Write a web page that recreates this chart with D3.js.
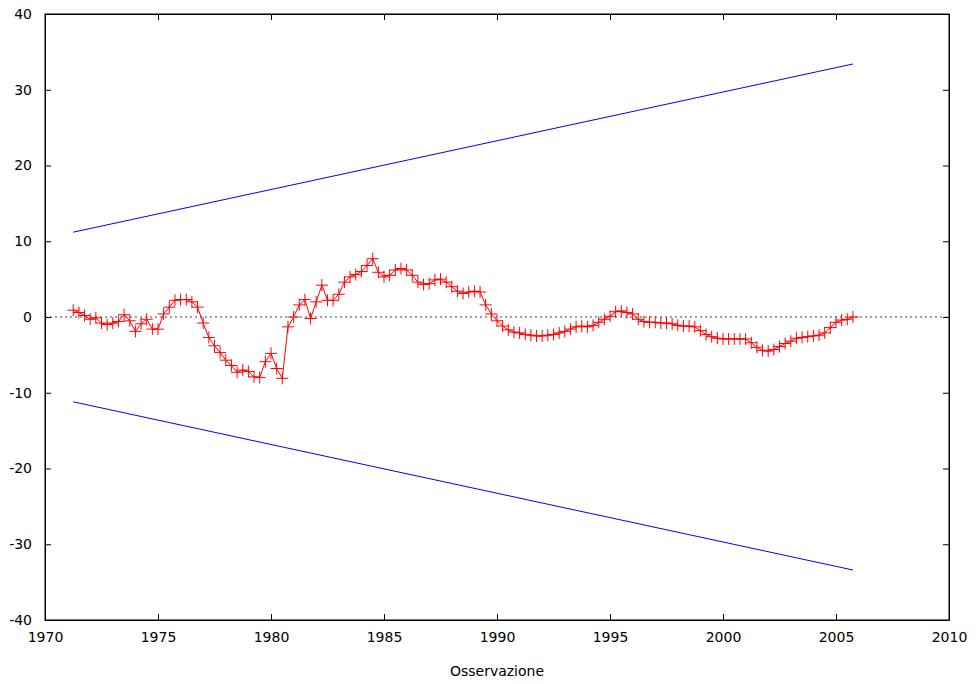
<!DOCTYPE html>
<html>
<head>
<meta charset="utf-8">
<script src="https://cdn.jsdelivr.net/npm/d3@7"></script>
<style>
  body { margin: 0; background: #fff; }
  svg { font-family: "DejaVu Sans", Verdana, sans-serif; }
</style>
</head>
<body>
<svg id="chart" width="976" height="684"></svg>
<script>
// CUSUM, quarterly from 1971:2 to 2005:4
var startYear = 1971, startQuarter = 2;
var cusum = [
  0.9, 0.6, 0.2, -0.3, -0.1, -0.8, -1.0, -0.8, -0.6, 0.3, -0.5, -1.9,
  -0.9, -0.3, -1.6, -1.6, 0.4, 1.3, 2.2, 2.3, 2.3, 2.0, 1.3, -0.8,
  -2.7, -3.8, -4.7, -5.7, -6.4, -7.3, -7.0, -7.2, -7.9, -8.0, -5.9, -4.8,
  -6.8, -8.1, -1.3, 0.0,
  1.6, 2.3, -0.2, 2.0, 4.2, 2.2, 2.2, 3.0, 4.6, 5.3, 5.6, 6.0, 6.8, 7.7,
  5.9, 5.3, 5.5, 6.2, 6.4, 6.2, 5.5, 4.6, 4.3, 4.4, 4.9, 5.0, 4.6, 4.0,
  3.4, 3.1, 3.3, 3.4, 3.3, 1.6, 0.4, -0.5,
  -1.2, -1.7, -2.0, -2.1, -2.3, -2.4, -2.5, -2.5, -2.4, -2.3, -2.1, -1.9,
  -1.6, -1.3, -1.2, -1.3, -1.1, -0.7, -0.3, 0.1, 0.7, 0.8, 0.6, 0.4,
  -0.3, -0.6, -0.7,
  -0.7, -0.8, -0.8, -0.9, -1.1, -1.2, -1.2, -1.3, -1.8, -2.3, -2.6, -2.8,
  -2.9, -2.9, -2.9, -2.9, -2.9, -3.4, -4.0, -4.4, -4.5, -4.3, -3.9, -3.5,
  -3.2, -2.8, -2.7, -2.6, -2.5, -2.4, -2.1, -1.4, -0.7, -0.4, -0.3, 0.0
];
// 95% confidence bands (straight lines between first and last observation)
var bandDates = [1971.25, 2005.75];
var upperBand = [11.2, 33.4];
var lowerBand = [-11.2, -33.4];

var xTicks = [1970, 1975, 1980, 1985, 1990, 1995, 2000, 2005, 2010];
var yTicks = [-40, -30, -20, -10, 0, 10, 20, 30, 40];

var svg = d3.select("#chart"),
  margin = { top: 14, right: 27, bottom: 64, left: 45 },
  width = +svg.attr("width") - margin.left - margin.right,
  height = +svg.attr("height") - margin.top - margin.bottom;

var x = d3.scaleLinear().domain([1970, 2010]).range([0, width]);
var y = d3.scaleLinear().domain([-40, 40]).range([height, 0]);

var g = svg.append("g")
  .attr("transform", "translate(" + margin.left + "," + margin.top + ")");

var data = cusum.map(function(v, i) {
  return { t: startYear + (startQuarter - 1 + i) / 4, v: v };
});

// zero line
g.append("line")
  .attr("x1", 0).attr("x2", width)
  .attr("y1", y(0)).attr("y2", y(0))
  .attr("stroke", "#444")
  .attr("stroke-dasharray", "2,3");

// bands
var band = d3.line()
  .x(function(d) { return x(d[0]); })
  .y(function(d) { return y(d[1]); });
[upperBand, lowerBand].forEach(function(b) {
  g.append("path")
    .datum(bandDates.map(function(t, i) { return [t, b[i]]; }))
    .attr("fill", "none")
    .attr("stroke", "#0000ff")
    .attr("stroke-width", 1)
    .attr("d", band);
});

// cusum line
var line = d3.line()
  .x(function(d) { return x(d.t); })
  .y(function(d) { return y(d.v); });
g.append("path")
  .datum(data)
  .attr("fill", "none")
  .attr("stroke", "#ff0000")
  .attr("stroke-width", 1)
  .attr("d", line);

// + markers
var ms = 6;
g.selectAll(".pt")
  .data(data)
  .enter()
  .append("path")
  .attr("class", "pt")
  .attr("fill", "none")
  .attr("stroke", "#ff0000")
  .attr("stroke-width", 1)
  .attr("d", function(d) {
    var cx = x(d.t), cy = y(d.v);
    return "M" + (cx - ms) + "," + cy + "H" + (cx + ms) +
      "M" + cx + "," + (cy - ms) + "V" + (cy + ms);
  });

// axes, gnuplot style: ticks inside, mirrored
var tl = 6;
var fmt = function(d) { return String(d); }; // plain hyphen for negatives
g.append("g")
  .attr("transform", "translate(0," + height + ")")
  .call(d3.axisBottom(x).tickValues(xTicks).tickFormat(fmt)
    .tickSizeInner(-tl).tickSizeOuter(0).tickPadding(12));
g.append("g")
  .call(d3.axisTop(x).tickValues(xTicks).tickFormat("")
    .tickSizeInner(-tl).tickSizeOuter(0));
g.append("g")
  .call(d3.axisLeft(y).tickValues(yTicks).tickFormat(fmt)
    .tickSizeInner(-tl).tickSizeOuter(0).tickPadding(13));
g.append("g")
  .attr("transform", "translate(" + width + ",0)")
  .call(d3.axisRight(y).tickValues(yTicks).tickFormat("")
    .tickSizeInner(-tl).tickSizeOuter(0));

g.selectAll(".domain").attr("stroke", "#000");
g.selectAll(".tick line").attr("stroke", "#000");
g.selectAll(".tick text")
  .attr("fill", "#000")
  .style("font-size", "14px")
  .style("font-family", "'DejaVu Sans', Verdana, sans-serif");

// frame
g.append("rect")
  .attr("width", width).attr("height", height)
  .attr("fill", "none").attr("stroke", "#000");

svg.append("text")
  .attr("x", margin.left + width / 2)
  .attr("y", 676)
  .attr("text-anchor", "middle")
  .style("font-size", "14px")
  .text("Osservazione");
</script>
</body>
</html>
